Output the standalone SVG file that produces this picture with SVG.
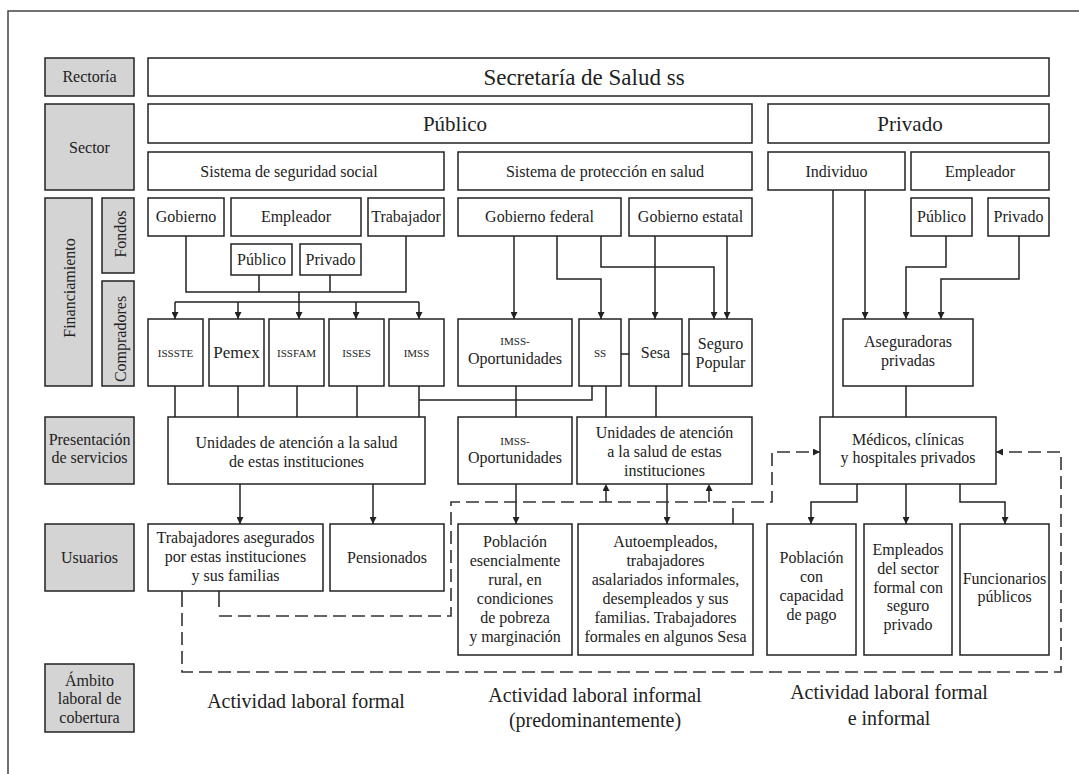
<svg xmlns="http://www.w3.org/2000/svg" width="1079" height="774" viewBox="0 0 1079 774" font-family="'Liberation Serif', 'DejaVu Serif', serif">
<style>
.bx{fill:#fff;stroke:#222;stroke-width:1.5}
.lab{fill:#d4d4d4;stroke:#222;stroke-width:1.5}
text{font-family:'Liberation Serif','DejaVu Serif',serif;font-size:16px;fill:#222;text-anchor:middle}
.sm{font-size:11px}
.big{font-size:21px}
.xl{font-size:23px}
.amb{font-size:20px}
.ln{fill:none;stroke:#222;stroke-width:1.5}
.ar{fill:none;stroke:#222;stroke-width:1.5;marker-end:url(#arr)}
.dsa{fill:none;stroke:#333;stroke-width:1.6;stroke-dasharray:13 6;marker-end:url(#arr)}
</style>
<defs>
<marker id="arr" viewBox="0 0 10 10" refX="10" refY="5" markerWidth="7" markerHeight="7" markerUnits="userSpaceOnUse" orient="auto"><path d="M0,0 L10,5 L0,10 z" fill="#222"/></marker>
</defs>
<rect width="1079" height="774" fill="#fff"/>
<path d="M8 774 V11 H1079" fill="none" stroke="#444" stroke-width="1.5"/>

<g id="connectors">
<path class="ln" d="M186 236 V292 H406 V236"/>
<path class="ln" d="M259 275 V292 M330 275 V292 M299 292 V302 M175 302 H419"/>
<path class="ar" d="M175 302 V319"/>
<path class="ar" d="M238 302 V319"/>
<path class="ar" d="M299 302 V319"/>
<path class="ar" d="M356 302 V319"/>
<path class="ar" d="M419 302 V319"/>
<path class="ar" d="M514 236 V319"/>
<path class="ar" d="M557 236 V279 H601 V319"/>
<path class="ar" d="M601 236 V267 H714 V319"/>
<path class="ar" d="M655 236 V319"/>
<path class="ar" d="M727 236 V319"/>
<path class="ln" d="M621 354 H629 M682 354 H689"/>
<path class="ln" d="M833 190 V417"/>
<path class="ar" d="M865 190 V319"/>
<path class="ar" d="M946 236 V267 H906 V319"/>
<path class="ar" d="M1019 236 V279 H941 V319"/>
<path class="ln" d="M175 386 V417 M238 386 V417 M297 386 V417 M357 386 V417 M419 386 V417 M419 400 H592 V386"/>
<path class="ln" d="M516 386 V417 M606 386 V417 M656 386 V417 M906 386 V417"/>
<path class="ar" d="M240 484 V524"/>
<path class="ar" d="M373 484 V524"/>
<path class="ar" d="M516 484 V524"/>
<path class="ar" d="M667 484 V524"/>
<path class="ar" d="M857 484 V502 H811 V524"/>
<path class="ar" d="M906 484 V524"/>
<path class="ar" d="M960 484 V502 H1005 V524"/>
<path class="ln" d="M733 508 V524 M182 591 V607 M219 591 V607"/>
<path class="dsa" d="M219 616 H451 V502 H772 V452 H820"/>
<path class="dsa" d="M606 502 V484"/>
<path class="dsa" d="M709 502 V484"/>
<path class="dsa" d="M182 613 V672 H1061 V452 H996"/>
</g>

<g id="lbl-rectoria"><rect class="lab" x="45" y="58" width="89" height="38"/><text x="89.5" y="82">Rectoría</text></g>
<g id="lbl-sector"><rect class="lab" x="45" y="104" width="89" height="86"/><text x="89.5" y="153">Sector</text></g>
<g id="lbl-financiamiento"><rect class="lab" x="45" y="198" width="47" height="188"/><text transform="translate(75,288) rotate(-90)">Financiamiento</text></g>
<g id="lbl-fondos"><rect class="lab" x="102" y="198" width="32" height="75"/><text transform="translate(126,234) rotate(-90)">Fondos</text></g>
<g id="lbl-compradores"><rect class="lab" x="102" y="281" width="32" height="105"/><text transform="translate(126,339) rotate(-90)">Compradores</text></g>
<g id="lbl-presentacion"><rect class="lab" x="45" y="417" width="89" height="67"/><text x="89.5" y="445">Presentación</text><text x="89.5" y="463">de servicios</text></g>
<g id="lbl-usuarios"><rect class="lab" x="45" y="524" width="89" height="67"/><text x="89.5" y="563">Usuarios</text></g>
<g id="lbl-ambito"><rect class="lab" x="45" y="664" width="89" height="68"/><text x="89.5" y="686">Ámbito</text><text x="89.5" y="704">laboral de</text><text x="89.5" y="723">cobertura</text></g>

<g id="n-ss"><rect class="bx" x="148" y="58" width="901" height="38"/><text class="xl" x="584" y="85">Secretaría de Salud ss</text></g>
<g id="n-publico"><rect class="bx" x="148" y="104" width="604" height="39"/><text class="big" x="455" y="131">Público</text></g>
<g id="n-privado"><rect class="bx" x="768" y="104" width="281" height="39"/><text class="big" x="910" y="131">Privado</text></g>
<g id="n-seguridad"><rect class="bx" x="148" y="152" width="296" height="38"/><text x="289" y="177">Sistema de seguridad social</text></g>
<g id="n-proteccion"><rect class="bx" x="458" y="152" width="294" height="38"/><text x="605" y="177">Sistema de protección en salud</text></g>
<g id="n-individuo"><rect class="bx" x="768" y="152" width="137" height="38"/><text x="836.5" y="177">Individuo</text></g>
<g id="n-empleador-priv"><rect class="bx" x="911" y="152" width="138" height="38"/><text x="980" y="177">Empleador</text></g>

<g id="n-gobierno"><rect class="bx" x="148" y="198" width="76" height="38"/><text x="186" y="222">Gobierno</text></g>
<g id="n-empleador"><rect class="bx" x="231" y="198" width="130" height="38"/><text x="296" y="222">Empleador</text></g>
<g id="n-trabajador"><rect class="bx" x="368" y="198" width="76" height="38"/><text x="406" y="222">Trabajador</text></g>
<g id="n-emp-publico"><rect class="bx" x="231" y="244" width="61" height="31"/><text x="261.5" y="265">Público</text></g>
<g id="n-emp-privado"><rect class="bx" x="300" y="244" width="61" height="31"/><text x="330.5" y="265">Privado</text></g>
<g id="n-gob-federal"><rect class="bx" x="458" y="198" width="163" height="38"/><text x="539.5" y="222">Gobierno federal</text></g>
<g id="n-gob-estatal"><rect class="bx" x="629" y="198" width="123" height="38"/><text x="690.5" y="222">Gobierno estatal</text></g>
<g id="n-priv-publico"><rect class="bx" x="911" y="198" width="61" height="38"/><text x="941.5" y="222">Público</text></g>
<g id="n-priv-privado"><rect class="bx" x="988" y="198" width="61" height="38"/><text x="1018.5" y="222">Privado</text></g>

<g id="n-issste"><rect class="bx" x="148" y="319" width="55" height="67"/><text class="sm" x="175.5" y="357">ISSSTE</text></g>
<g id="n-pemex"><rect class="bx" x="209" y="319" width="55" height="67"/><text x="236.5" y="358" style="font-size:17px">Pemex</text></g>
<g id="n-issfam"><rect class="bx" x="269" y="319" width="55" height="67"/><text class="sm" x="296.5" y="357">ISSFAM</text></g>
<g id="n-isses"><rect class="bx" x="329" y="319" width="55" height="67"/><text class="sm" x="356.5" y="357">ISSES</text></g>
<g id="n-imss"><rect class="bx" x="389" y="319" width="55" height="67"/><text class="sm" x="416.5" y="357">IMSS</text></g>
<g id="n-imss-op"><rect class="bx" x="458" y="319" width="114" height="67"/><text class="sm" x="515" y="345">IMSS-</text><text x="515" y="364">Oportunidades</text></g>
<g id="n-ss-comp"><rect class="bx" x="579" y="319" width="42" height="67"/><text class="sm" x="600" y="357">SS</text></g>
<g id="n-sesa"><rect class="bx" x="629" y="319" width="53" height="67"/><text x="655.5" y="358">Sesa</text></g>
<g id="n-seguro-popular"><rect class="bx" x="689" y="319" width="63" height="67"/><text x="720.5" y="349">Seguro</text><text x="720.5" y="368">Popular</text></g>
<g id="n-aseguradoras"><rect class="bx" x="843" y="319" width="130" height="67"/><text x="908" y="347">Aseguradoras</text><text x="908" y="366">privadas</text></g>

<g id="n-unidades-1"><rect class="bx" x="168" y="417" width="257" height="67"/><text x="296.5" y="448">Unidades de atención a la salud</text><text x="296.5" y="467">de estas instituciones</text></g>
<g id="n-imss-op-serv"><rect class="bx" x="458" y="417" width="114" height="67"/><text class="sm" x="515" y="445">IMSS-</text><text x="515" y="463">Oportunidades</text></g>
<g id="n-unidades-2"><rect class="bx" x="577" y="417" width="175" height="67"/><text x="664.5" y="438">Unidades de atención</text><text x="664.5" y="457">a la salud de estas</text><text x="664.5" y="476">instituciones</text></g>
<g id="n-medicos"><rect class="bx" x="820" y="417" width="176" height="67"/><text x="908" y="445">Médicos, clínicas</text><text x="908" y="463">y hospitales privados</text></g>

<g id="n-trabajadores"><rect class="bx" x="148" y="524" width="175" height="67"/><text x="235.5" y="543">Trabajadores asegurados</text><text x="235.5" y="562">por estas instituciones</text><text x="235.5" y="581">y sus familias</text></g>
<g id="n-pensionados"><rect class="bx" x="330" y="524" width="114" height="67"/><text x="387" y="563">Pensionados</text></g>
<g id="n-poblacion-rural"><rect class="bx" x="458" y="524" width="114" height="131"/><text x="515" y="547">Población</text><text x="515" y="566">esencialmente</text><text x="515" y="585">rural, en</text><text x="515" y="604">condiciones</text><text x="515" y="623">de pobreza</text><text x="515" y="642">y marginación</text></g>
<g id="n-autoempleados"><rect class="bx" x="578" y="524" width="175" height="131"/><text x="665.5" y="547">Autoempleados,</text><text x="665.5" y="566">trabajadores</text><text x="665.5" y="585">asalariados informales,</text><text x="665.5" y="604">desempleados y sus</text><text x="665.5" y="623">familias. Trabajadores</text><text x="665.5" y="642">formales en algunos Sesa</text></g>
<g id="n-poblacion-pago"><rect class="bx" x="767" y="524" width="89" height="131"/><text x="811.5" y="563">Población</text><text x="811.5" y="582">con</text><text x="811.5" y="601">capacidad</text><text x="811.5" y="620">de pago</text></g>
<g id="n-empleados"><rect class="bx" x="864" y="524" width="88" height="131"/><text x="908" y="555">Empleados</text><text x="908" y="574">del sector</text><text x="908" y="593">formal con</text><text x="908" y="611">seguro</text><text x="908" y="630">privado</text></g>
<g id="n-funcionarios"><rect class="bx" x="960" y="524" width="89" height="131"/><text x="1004.5" y="584">Funcionarios</text><text x="1004.5" y="602">públicos</text></g>

<g id="ambito-texts">
<text class="amb" x="306" y="708">Actividad laboral formal</text>
<text class="amb" x="595" y="702">Actividad laboral informal</text>
<text class="amb" x="595" y="727">(predominantemente)</text>
<text class="amb" x="889" y="699">Actividad laboral formal</text>
<text class="amb" x="889" y="725">e informal</text>
</g>
</svg>
